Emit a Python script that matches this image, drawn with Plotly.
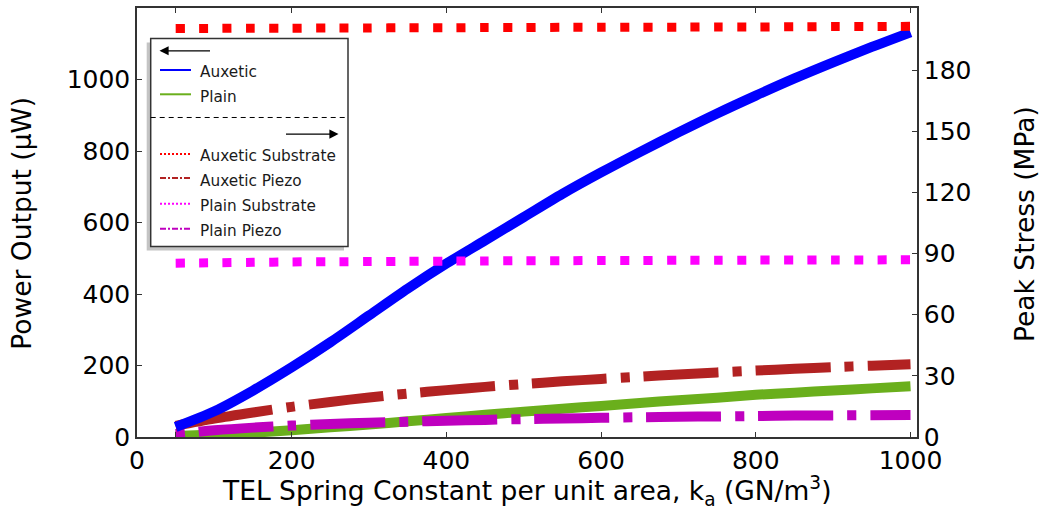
import plotly.graph_objects as go

# Spring constant per unit area (GN/m^3)
k_values = [50, 100, 150, 200, 250, 300, 350, 400, 450, 500,
            550, 600, 650, 700, 750, 800, 850, 900, 950, 1000]

# Power output (uW), left axis
auxetic_power = [28, 72, 130, 195, 265, 340, 415, 485, 550, 615,
                 680, 740, 797, 852, 905, 955, 1003, 1048, 1091, 1132]
plain_power = [3, 7, 12, 19, 27, 35, 44, 53, 62, 71,
               79, 87, 95, 103, 110, 118, 124, 130, 136, 142]

# Peak stress (MPa), right axis
auxetic_substrate = [200.4, 200.5, 200.6, 200.6, 200.7, 200.7, 200.8, 200.8, 200.9, 200.9,
                     201.0, 201.0, 201.1, 201.1, 201.2, 201.2, 201.3, 201.4, 201.4, 201.5]
auxetic_piezo = [5.5, 9.0, 12.0, 14.8, 17.2, 19.4, 21.3, 23.0, 24.6, 26.0,
                 27.3, 28.5, 29.6, 30.7, 31.7, 32.6, 33.5, 34.3, 35.0, 35.7]
plain_substrate = [85.3, 85.5, 85.7, 85.9, 86.0, 86.1, 86.2, 86.3, 86.4, 86.5,
                   86.5, 86.6, 86.6, 86.7, 86.7, 86.8, 86.8, 86.9, 86.9, 87.0]
plain_piezo = [1.5, 3.3, 4.6, 5.6, 6.4, 7.0, 7.5, 8.0, 8.4, 8.8,
               9.1, 9.4, 9.7, 9.9, 10.1, 10.3, 10.5, 10.6, 10.7, 10.8]

x_tickvals = [0, 50, 200, 400, 600, 800, 1000]
x_ticktext = ["0", "", "200", "400", "600", "800", "1000"]
power_ticks = [0, 200, 400, 600, 800, 1000]
stress_ticks = [0, 30, 60, 90, 120, 150, 180]

X_RANGE = [0, 1008.4]
POWER_RANGE = [0, 1200]
STRESS_RANGE = [0, 210.5]

FONT = "DejaVu Sans"
BLUE = "#0000ff"
GREEN = "#6aaf1c"
RED = "#ff0000"
BROWN = "#b22222"
MAGENTA = "#ff00ff"
PURPLE = "#bf00bf"

W, H = 1042, 515
L, R, T, B = 137, 917, 6, 437

# dash patterns (px)
DOTS = "9px,14.4px"
AUX_PIEZO_DASH = "98px,14px,9px,14px," + ",".join(["75px,14px,9px,14px"] * 8)
PLAIN_PIEZO_DASH = "9px,14px,75px,14px"


def px_x(p):
    return (p - L) / (R - L)


def px_y(p):
    return (B - p) / (B - T)


def curve(y, axis, color, width, dash="solid", name=None):
    return go.Scatter(x=k_values, y=y, mode="lines", yaxis=axis, name=name,
                      line=dict(color=color, width=width, dash=dash,
                                shape="spline", smoothing=0.8))


fig = go.Figure()

# bottom layer: plain power (left axis)
fig.add_trace(curve(plain_power, "y", GREEN, 10, name="Plain"))
# stress (right axis)
fig.add_trace(curve(plain_piezo, "y2", PURPLE, 10, PLAIN_PIEZO_DASH, "Plain Piezo"))
fig.add_trace(curve(auxetic_piezo, "y2", BROWN, 10, AUX_PIEZO_DASH, "Auxetic Piezo"))
# auxetic power on top of the piezo curves
fig.add_trace(curve(auxetic_power, "y3", BLUE, 10, name="Auxetic"))
# substrate stress dots drawn last
fig.add_trace(curve(plain_substrate, "y4", MAGENTA, 9, DOTS, "Plain Substrate"))
fig.add_trace(curve(auxetic_substrate, "y4", RED, 9, DOTS, "Auxetic Substrate"))

tickfont = dict(family=FONT, size=25, color="#000000")
axis_line = dict(showline=True, linecolor="#333333", linewidth=1.5,
                 ticks="inside", ticklen=5, tickwidth=1, tickcolor="#333333",
                 showgrid=False, zeroline=False, tickfont=tickfont)

shapes = []
annotations = []

# legend frame with shadow
lx0, ly0, lx1, ly1 = 150.7, 36.7, 348, 245.7
shapes.append(dict(type="rect", xref="paper", yref="paper", layer="above",
                   x0=px_x(lx0 - 4), x1=px_x(lx1 - 4), y0=px_y(ly0 + 4), y1=px_y(ly1 + 4),
                   line=dict(width=0), fillcolor="#c4c4c4"))
shapes.append(dict(type="rect", xref="paper", yref="paper", layer="above",
                   x0=px_x(lx0), x1=px_x(lx1), y0=px_y(ly0), y1=px_y(ly1),
                   line=dict(color="#333333", width=1.5), fillcolor="#ffffff"))
shapes.append(dict(type="line", xref="paper", yref="paper", layer="above",
                   x0=px_x(lx0), x1=px_x(lx1), y0=px_y(116), y1=px_y(116),
                   line=dict(color="#000000", width=1, dash="5px,4px")))

# arrows indicating which axis each group belongs to
annotations.append(dict(xref="paper", yref="paper", x=px_x(159.5), y=px_y(49),
                        ax=52, ay=0, text="", showarrow=True, arrowhead=2,
                        arrowsize=1.4, arrowwidth=1.3, arrowcolor="#000000"))
annotations.append(dict(xref="paper", yref="paper", x=px_x(338.5), y=px_y(132.7),
                        ax=-54, ay=0, text="", showarrow=True, arrowhead=2,
                        arrowsize=1.4, arrowwidth=1.3, arrowcolor="#000000"))

legend_rows = [
    ("Auxetic", BLUE, "solid", 68.3, 70.8),
    ("Plain", GREEN, "solid", 92.7, 95.8),
    ("Auxetic Substrate", RED, "2px,2px", 152.7, 154.5),
    ("Auxetic Piezo", BROWN, "6px,2px,2px,2px", 176.7, 179.7),
    ("Plain Substrate", MAGENTA, "2px,2px", 202.7, 204.5),
    ("Plain Piezo", PURPLE, "6px,2px,2px,2px", 227.7, 229.7),
]
for label, color, dash, y_line, y_text in legend_rows:
    shapes.append(dict(type="line", xref="paper", yref="paper", layer="above",
                       x0=px_x(160), x1=px_x(191), y0=px_y(y_line), y1=px_y(y_line),
                       line=dict(color=color, width=2, dash=dash)))
    annotations.append(dict(xref="paper", yref="paper", x=px_x(198), y=px_y(y_text),
                            xanchor="left", yanchor="middle", showarrow=False,
                            text=label, font=dict(family=FONT, size=15.3, color="#1a1a1a")))

# axis titles
title_font = dict(family=FONT, size=26.5, color="#000000")
annotations.append(dict(xref="paper", yref="paper", x=px_x(527), y=px_y(491),
                        xanchor="center", yanchor="middle", showarrow=False,
                        text="TEL Spring Constant per unit area, k<sub>a</sub> (GN/m<sup>3</sup>)",
                        font=title_font))
annotations.append(dict(xref="paper", yref="paper", x=px_x(21.7), y=px_y(222),
                        xanchor="center", yanchor="middle", showarrow=False,
                        textangle=-90, text="Power Output (μW)", font=title_font))
annotations.append(dict(xref="paper", yref="paper", x=px_x(1025), y=px_y(223),
                        xanchor="center", yanchor="middle", showarrow=False,
                        textangle=-90, text="Peak Stress (MPa)", font=title_font))

fig.update_layout(
    width=W, height=H,
    margin=dict(l=L, r=W - R, t=T, b=H - B),
    paper_bgcolor="#ffffff", plot_bgcolor="#ffffff",
    showlegend=False,
    xaxis=dict(range=X_RANGE, tickvals=x_tickvals, ticktext=x_ticktext,
               mirror="ticks", **axis_line),
    yaxis=dict(range=POWER_RANGE, tickvals=power_ticks, mirror=False, **axis_line),
    yaxis2=dict(range=STRESS_RANGE, tickvals=stress_ticks, overlaying="y",
                side="right", **axis_line),
    yaxis3=dict(range=POWER_RANGE, overlaying="y", visible=False),
    yaxis4=dict(range=STRESS_RANGE, overlaying="y", visible=False),
    shapes=shapes,
    annotations=annotations,
)

fig.write_html("out.html")
